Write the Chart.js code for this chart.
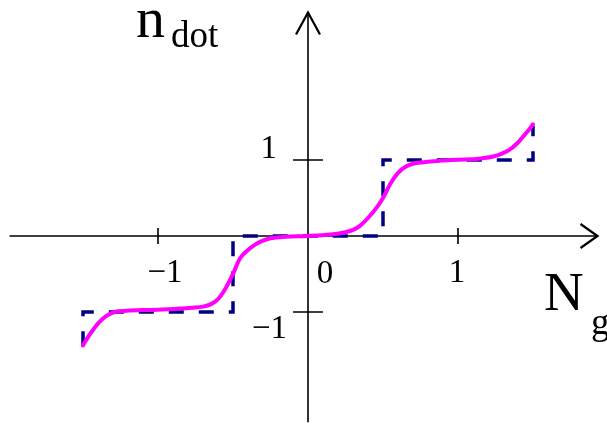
<!DOCTYPE html>
<html>
<head>
<meta charset="utf-8">
<script src="https://cdn.jsdelivr.net/npm/chart.js@4"></script>
<style>
  html, body { margin: 0; padding: 0; background: #fff; }
  canvas { display: block; }
</style>
</head>
<body>
<canvas id="myChart" width="607" height="425"></canvas>
<script>
// smeared staircase
var curveX = [-1.5, -1.47, -1.435, -1.39, -1.344, -1.29, -1.21, -1.1, -1.0, -0.85, -0.77, -0.7, -0.65, -0.6, -0.55, -0.5, -0.455, -0.41, -0.35, -0.3, -0.25, -0.15, 0,
              0.15, 0.25, 0.3, 0.35, 0.41, 0.46, 0.5, 0.55, 0.6, 0.65, 0.7, 0.77, 0.85, 0.95, 1.05, 1.15, 1.235, 1.3, 1.347, 1.4, 1.435, 1.47, 1.5];
var curveY = [-1.44, -1.34, -1.24, -1.13, -1.05, -1.0, -0.985, -0.975, -0.97, -0.955, -0.945, -0.93, -0.9, -0.83, -0.69, -0.5, -0.3, -0.2, -0.11, -0.06, -0.03, -0.01, 0,
              0.02, 0.05, 0.08, 0.14, 0.26, 0.38, 0.5, 0.69, 0.83, 0.91, 0.95, 0.97, 0.985, 1.0, 1.005, 1.02, 1.045, 1.09, 1.14, 1.23, 1.31, 1.39, 1.47];

// zero-temperature staircase (dashed)
var stepX = [-1.5, -1.5, -0.5, -0.5, 0.5, 0.5, 1.5, 1.5];
var stepY = [-1.45, -1, -1, 0, 0, 1, 1, 1.45];

var xTicks = [-1, 1];
var xTickLabels = ['\u22121', '1'];
var yTicks = [-1, 1];
var yTickLabels = ['\u22121', '1'];
var xAxisEnds = [-1.99, 1.93];
var yAxisEnds = [-2.45, 2.94];

function toPoints(xs, ys) {
    var pts = [];
    xs.forEach(function (x, i) { pts.push({x: x, y: ys[i]}); });
    return pts;
}

var serif = '"Liberation Serif", "Times New Roman", serif';

var axesPlugin = {
    id: 'crossAxes',
    beforeDatasetsDraw: function (chart) {
        var ctx = chart.ctx;
        var xs = chart.scales.x, ys = chart.scales.y;
        var x0 = xs.getPixelForValue(0), y0 = ys.getPixelForValue(0);
        var xl = xs.getPixelForValue(xAxisEnds[0]), xr = xs.getPixelForValue(xAxisEnds[1]);
        var yb = ys.getPixelForValue(yAxisEnds[0]), yt = ys.getPixelForValue(yAxisEnds[1]);
        ctx.save();
        ctx.strokeStyle = '#000';
        ctx.lineWidth = 1.6;
        ctx.beginPath();
        ctx.moveTo(xl, y0); ctx.lineTo(xr, y0);
        ctx.moveTo(x0, yb); ctx.lineTo(x0, yt);
        xTicks.forEach(function (t) {
            var px = xs.getPixelForValue(t);
            ctx.moveTo(px, y0 - 8); ctx.lineTo(px, y0 + 8);
        });
        yTicks.forEach(function (t) {
            var py = ys.getPixelForValue(t);
            ctx.moveTo(x0 - 15, py); ctx.lineTo(x0 + 15, py);
        });
        ctx.stroke();
        // open arrow heads
        ctx.lineWidth = 2.2;
        ctx.beginPath();
        ctx.moveTo(xr - 17, y0 - 12); ctx.lineTo(xr, y0); ctx.lineTo(xr - 17, y0 + 12);
        ctx.moveTo(x0 - 12, yt + 22); ctx.lineTo(x0, yt); ctx.lineTo(x0 + 12, yt + 22);
        ctx.stroke();
        ctx.restore();
    },
    afterDatasetsDraw: function (chart) {
        var ctx = chart.ctx;
        var xs = chart.scales.x, ys = chart.scales.y;
        var x0 = xs.getPixelForValue(0), y0 = ys.getPixelForValue(0);
        ctx.save();
        ctx.fillStyle = '#000';
        ctx.textBaseline = 'alphabetic';
        ctx.font = '33px ' + serif;
        ctx.textAlign = 'center';
        xTicks.forEach(function (t, i) {
            var px = xs.getPixelForValue(t);
            ctx.fillText(xTickLabels[i], px + (t < 0 ? 7 : -1), y0 + 46);
        });
        ctx.fillText('0', x0 + 17, y0 + 47);
        ctx.textAlign = 'right';
        yTicks.forEach(function (t, i) {
            var py = ys.getPixelForValue(t);
            ctx.fillText(yTickLabels[i], x0 + (t < 0 ? -21 : -31), py + (t < 0 ? 26 : -2));
        });
        // axis titles
        ctx.textAlign = 'left';
        ctx.font = '58px ' + serif;
        ctx.fillText('n', 136, 37);
        ctx.font = '55px ' + serif;
        ctx.fillText('N', 544, 310);
        ctx.font = '37px ' + serif;
        ctx.fillText('dot', 171, 47);
        ctx.fillText('g', 591, 334);
        ctx.restore();
    }
};

var myChart = new Chart(document.getElementById('myChart'), {
    type: 'scatter',
    data: {
        datasets: [{
            label: 'finite T',
            data: toPoints(curveX, curveY),
            showLine: true,
            borderColor: '#ff00ff',
            borderWidth: 4,
            pointRadius: 0,
            cubicInterpolationMode: 'monotone',
            borderCapStyle: 'round',
            clip: false
        }, {
            label: 'T = 0',
            data: toPoints(stepX, stepY),
            showLine: true,
            borderColor: '#000080',
            borderWidth: 3.5,
            borderDash: [15, 15],
            pointRadius: 0,
            tension: 0,
            clip: false
        }]
    },
    options: {
        responsive: false,
        animation: false,
        layout: { padding: 0 },
        plugins: { legend: { display: false }, tooltip: { enabled: false } },
        scales: {
            x: { type: 'linear', display: false, min: -2.0533, max: 1.9933 },
            y: { type: 'linear', display: false, min: -2.487, max: 3.105 }
        }
    },
    plugins: [axesPlugin]
});
</script>
</body>
</html>
